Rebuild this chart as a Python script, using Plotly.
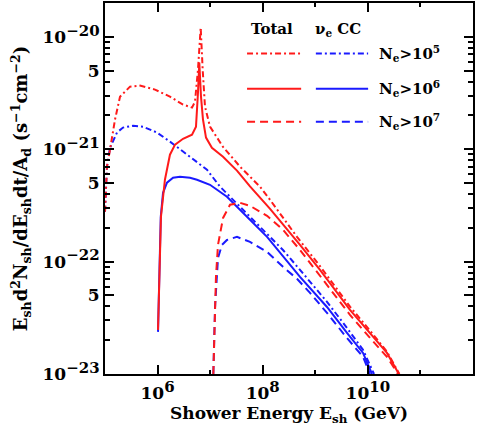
import plotly.graph_objects as go

# ---------------- data ----------------
# Total, N_e > 1e5 (red dash-dot)
tot5_e = [1.00e5, 1.09e5, 1.245e5, 1.55e5, 1.93e5, 2.99e5, 4.63e5, 8.93e5, 1.72e6, 3.05e6,
          4.52e6, 5.15e6, 5.87e6, 6.61e6, 7.21e6, 7.98e6, 9.93e6, 1.76e7, 3.70e7, 8.87e7,
          1.38e8, 4.49e8, 1.23e9, 4.57e9, 1.10e10, 2.31e10, 3.98e10]
tot5_f = [2.78e-22, 7.00e-22, 9.91e-22, 1.84e-21, 2.94e-21, 3.61e-21, 3.69e-21, 3.40e-21, 2.94e-21, 2.50e-21,
          2.35e-21, 2.65e-21, 5.12e-21, 1.21e-20, 5.12e-21, 2.40e-21, 1.59e-21, 1.05e-21, 7.00e-22, 4.65e-22,
          3.55e-22, 1.66e-22, 9.12e-23, 3.98e-23, 2.43e-23, 1.58e-23, 1.00e-23]

# Total, N_e > 1e6 (red solid)
tot6_e = [1.02e6, 1.09e6, 1.16e6, 1.38e6, 1.72e6, 2.15e6, 3.05e6, 4.52e6, 5.38e6, 5.87e6,
          6.22e6, 6.70e6, 7.31e6, 8.34e6, 1.08e7, 1.76e7, 3.24e7, 5.73e7, 1.38e8, 5.12e8,
          1.23e9, 4.57e9, 1.10e10, 2.31e10, 3.89e10]
tot6_f = [2.47e-23, 1.04e-22, 2.51e-22, 5.36e-22, 8.95e-22, 1.10e-21, 1.24e-21, 1.35e-21, 1.59e-21, 3.19e-21,
          5.92e-21, 2.94e-21, 1.84e-21, 1.27e-21, 1.03e-21, 8.59e-22, 6.46e-22, 4.68e-22, 2.95e-22, 1.41e-22,
          8.45e-23, 3.72e-23, 2.32e-23, 1.54e-23, 1.00e-23]

# Total, N_e > 1e7 (red dashed)
tot7_e = [1.15e7, 1.24e7, 1.29e7, 1.41e7, 1.76e7, 2.39e7, 3.70e7, 5.73e7, 1.21e8, 2.43e8,
          5.12e8, 9.06e8, 4.57e9, 1.10e10, 2.31e10, 3.74e10]
tot7_f = [1.00e-23, 3.95e-23, 7.33e-23, 1.41e-22, 2.45e-22, 3.21e-22, 3.34e-22, 3.14e-22, 2.56e-22, 1.92e-22,
          1.27e-22, 9.00e-23, 3.36e-23, 2.09e-23, 1.42e-23, 1.00e-23]

# nu_e CC, N_e > 1e5 (blue dash-dot)
cc5_e = [1.00e5, 1.09e5, 1.245e5, 1.69e5, 2.20e5, 3.41e5, 5.28e5, 9.75e5, 1.72e6, 3.05e6,
         5.62e6, 8.71e6, 1.54e7, 3.70e7, 8.87e7, 2.43e8, 5.12e8, 1.67e9, 4.01e9, 8.09e9, 1.31e10]
cc5_f = [2.78e-22, 7.00e-22, 1.03e-21, 1.41e-21, 1.56e-21, 1.62e-21, 1.59e-21, 1.41e-21, 1.17e-21, 9.53e-22,
         7.60e-22, 6.58e-22, 4.65e-22, 3.08e-22, 2.04e-22, 1.27e-22, 8.45e-23, 4.39e-23, 2.57e-23, 1.64e-23, 1.00e-23]

# nu_e CC, N_e > 1e6 (blue solid)
cc6_e = [1.02e6, 1.09e6, 1.15e6, 1.27e6, 1.51e6, 1.97e6, 2.67e6, 4.14e6, 5.62e6, 9.93e6,
         2.09e7, 5.02e7, 1.21e8, 5.12e8, 1.67e9, 4.01e9, 8.09e9, 1.20e10]
cc6_f = [2.37e-23, 1.04e-22, 2.51e-22, 4.10e-22, 5.04e-22, 5.58e-22, 5.70e-22, 5.58e-22, 5.36e-22, 4.83e-22,
         3.78e-22, 2.51e-22, 1.66e-22, 7.33e-23, 3.95e-23, 2.32e-23, 1.54e-23, 1.00e-23]

# nu_e CC, N_e > 1e7 (blue dashed)
cc7_e = [1.15e7, 1.24e7, 1.41e7, 1.68e7, 2.09e7, 3.24e7, 5.73e7, 1.21e8, 2.43e8, 4.49e8,
         7.94e8, 1.67e9, 4.01e9, 8.09e9, 1.10e10]
cc7_f = [1.00e-23, 3.95e-23, 1.08e-22, 1.41e-22, 1.56e-22, 1.66e-22, 1.50e-22, 1.22e-22, 9.00e-23, 7.03e-23,
         5.27e-23, 3.50e-23, 2.09e-23, 1.42e-23, 1.00e-23]

SUP = "<sup><span style='font-size:15px'>{}</span></sup>"
x_ticks = [1e6, 1e8, 1e10, 1e12]
x_ticktext = ["10" + SUP.format("6"), "10" + SUP.format("8"), "10" + SUP.format("10"), "10" + SUP.format("12")]
x_minor = [1e7, 1e9, 1e11]
y_ticks = [1e-23, 5e-23, 1e-22, 5e-22, 1e-21, 5e-21, 1e-20]
y_ticktext = ["10" + SUP.format("−23"), "5", "10" + SUP.format("−22"), "5",
              "10" + SUP.format("−21"), "5", "10" + SUP.format("−20")]
y_minor = [m * d for d in (1e-23, 1e-22, 1e-21) for m in (2, 3, 4, 6, 7, 8, 9)] + [2e-20]

# ---------------- style ----------------
RED = "#ff1a1a"
BLUE = "#1a1aff"
DASHDOT = "6px,3px,2px,3px"
DASH = "8px,5px"
FONT = "DejaVu Serif"

fig = go.Figure()

def add(x, y, color, dash):
    fig.add_trace(go.Scatter(x=x, y=y, mode="lines",
                             line=dict(color=color, width=2, dash=dash),
                             showlegend=False, hoverinfo="skip"))

add(cc5_e, cc5_f, BLUE, DASHDOT)
add(cc6_e, cc6_f, BLUE, "solid")
add(cc7_e, cc7_f, BLUE, DASH)
add(tot5_e, tot5_f, RED, DASHDOT)
add(tot6_e, tot6_f, RED, "solid")
add(tot7_e, tot7_f, RED, DASH)

# ---------------- hand-made legend ----------------
leg_rows = [0.864, 0.769, 0.680]
leg_dash = [DASHDOT, "solid", DASH]
leg_text = ["N<sub>e</sub>>10<sup>5</sup>", "N<sub>e</sub>>10<sup>6</sup>", "N<sub>e</sub>>10<sup>7</sup>"]
for yr, d, t in zip(leg_rows, leg_dash, leg_text):
    fig.add_shape(type="line", xref="paper", yref="paper", x0=0.386, x1=0.533, y0=yr, y1=yr,
                  line=dict(color=RED, width=2, dash=d))
    fig.add_shape(type="line", xref="paper", yref="paper", x0=0.573, x1=0.715, y0=yr, y1=yr,
                  line=dict(color=BLUE, width=2, dash=d))
    fig.add_annotation(xref="paper", yref="paper", x=0.738, y=yr, text=t, showarrow=False,
                       xanchor="left", yanchor="middle",
                       font=dict(family=FONT, size=15, color="black", weight="bold"))
fig.add_annotation(xref="paper", yref="paper", x=0.455, y=0.929, text="Total", showarrow=False,
                   xanchor="center", yanchor="middle",
                   font=dict(family=FONT, size=15, color="black", weight="bold"))
fig.add_annotation(xref="paper", yref="paper", x=0.633, y=0.929, text="ν<sub>e</sub> CC", showarrow=False,
                   xanchor="center", yanchor="middle",
                   font=dict(family=FONT, size=15, color="black", weight="bold"))

axis_common = dict(showgrid=False, zeroline=False, showline=True, linecolor="black", linewidth=2,
                   ticks="inside", tickcolor="black", tickwidth=1.5, mirror="ticks", automargin=False,
                   tickfont=dict(family=FONT, size=17, color="black", weight="bold"))

fig.update_xaxes(type="log", range=[5, 12], tickmode="array", tickvals=x_ticks, ticktext=x_ticktext,
                 ticklen=9, ticklabelstandoff=3,
                 minor=dict(tickmode="array", tickvals=x_minor, ticks="inside", ticklen=4,
                            tickcolor="black", tickwidth=1.5),
                 title=dict(text="Shower Energy E<sub>sh</sub> (GeV)",
                            font=dict(family=FONT, size=17, color="black", weight="bold"), standoff=2),
                 **axis_common)
fig.update_yaxes(type="log", range=[-23, -19.698], tickmode="array", tickvals=y_ticks, ticktext=y_ticktext,
                 ticklen=9,
                 minor=dict(tickmode="array", tickvals=y_minor, ticks="inside", ticklen=5,
                            tickcolor="black", tickwidth=1.5),
                 title=dict(text="E<sub>sh</sub>d<sup>2</sup>N<sub>sh</sub>/dE<sub>sh</sub>dt/A<sub>d</sub> (s<sup>−1</sup>cm<sup>−2</sup>)",
                            font=dict(family=FONT, size=18, color="black", weight="bold"), standoff=10),
                 **axis_common)

fig.update_layout(width=491, height=427, margin=dict(l=105, r=18, t=3, b=53),
                  plot_bgcolor="white", paper_bgcolor="white", showlegend=False)

fig.write_html("out.html", config={"displayModeBar": False},
               post_script="document.body.style.margin='0';document.body.style.padding='0';")
